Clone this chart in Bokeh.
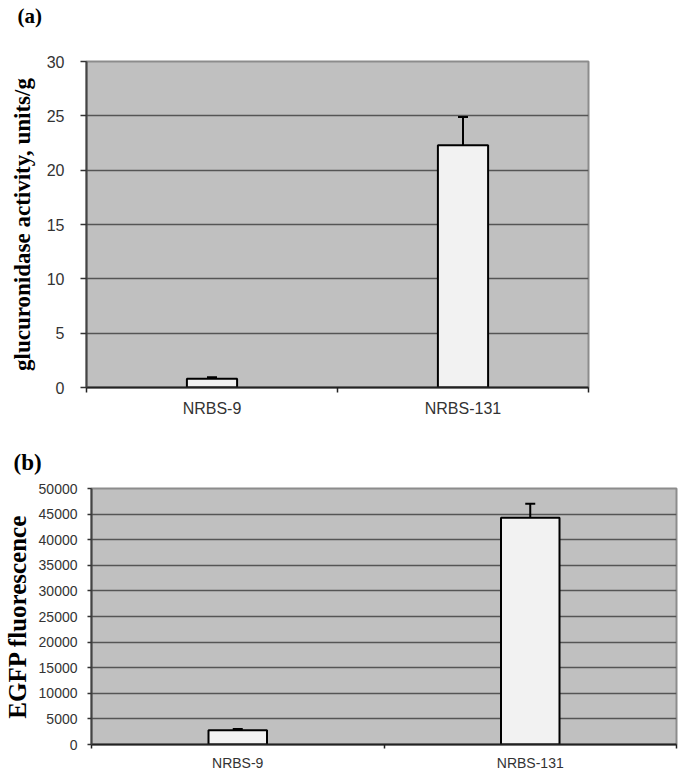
from bokeh.plotting import figure
from bokeh.models import ColumnDataSource, FixedTicker, Whisker, TeeHead, Range1d, Title
from bokeh.embed import file_html
from bokeh.resources import INLINE

# ---- data ----
categories = ["NRBS-9", "NRBS-131"]
gluc_mean = [0.8, 22.3]
gluc_err = [0.15, 2.6]
egfp_mean = [2800, 44300]
egfp_err = [250, 2700]
gluc_ticks = [0, 5, 10, 15, 20, 25, 30]
egfp_ticks = [0, 5000, 10000, 15000, 20000, 25000, 30000, 35000, 40000, 45000, 50000]

SERIF = "Liberation Serif"
SANS = "Liberation Sans"


def panel(letter, means, errs, yticks, ylabel, width, height, borders,
          tick_font, ylab_font, title_font, title_offset, title_standoff, title_lh,
          ytick_out, ymaj_standoff, xtick_out, xmaj_standoff, ylabel_std):
    xs = [2 * i + 1 for i in range(len(categories))]
    src = ColumnDataSource(dict(
        x=xs, top=means, upper=[m + e for m, e in zip(means, errs)],
    ))
    left, top, right, bottom = borders
    p = figure(width=width, height=height, output_backend="svg", toolbar_location=None,
               x_range=Range1d(0, 2 * len(categories)), y_range=Range1d(yticks[0], yticks[-1]),
               min_border_left=left, min_border_top=top, min_border_right=right,
               min_border_bottom=bottom)
    p.background_fill_color = "#c0c0c0"
    p.border_fill_color = "white"
    p.outline_line_color = "#8c8c8c"
    p.outline_line_width = 2

    p.vbar(x="x", top="top", bottom=0, width=0.4, source=src,
           fill_color="#f2f2f2", line_color="black", line_width=2)
    w = Whisker(source=src, base="x", lower="top", upper="upper", dimension="height",
                line_color="black", line_width=2, lower_head=None,
                upper_head=TeeHead(size=10, line_color="black", line_width=2))
    p.add_layout(w)

    # x axis: labels at category centres, ticks at boundaries
    p.xaxis.ticker = FixedTicker(ticks=xs, minor_ticks=[0, 2, 4])
    p.xaxis.major_label_overrides = {x: c for x, c in zip(xs, categories)}
    p.xaxis.major_tick_out = 0
    p.xaxis.major_tick_in = 0
    p.xaxis.minor_tick_out = xtick_out
    p.xaxis.minor_tick_in = 0
    p.xaxis.minor_tick_line_color = "#222222"
    p.xaxis.minor_tick_line_width = 1.5
    p.xaxis.axis_line_color = "#222222"
    p.xaxis.axis_line_width = 2
    p.xaxis.major_label_text_font = SANS
    p.xaxis.major_label_text_font_size = tick_font[0]
    p.xaxis.major_label_text_color = "#333333"
    p.xaxis.major_label_standoff = xmaj_standoff

    # y axis
    p.yaxis.ticker = FixedTicker(ticks=yticks)
    p.yaxis.major_tick_out = ytick_out
    p.yaxis.major_tick_in = 0
    p.yaxis.minor_tick_out = 0
    p.yaxis.minor_tick_in = 0
    p.yaxis.major_tick_line_color = "#333333"
    p.yaxis.major_tick_line_width = 1.5
    p.yaxis.axis_line_color = "#444444"
    p.yaxis.axis_line_width = 2
    p.yaxis.major_label_text_font = SANS
    p.yaxis.major_label_text_font_size = tick_font[1]
    p.yaxis.major_label_text_color = "#333333"
    p.yaxis.major_label_standoff = ymaj_standoff
    p.yaxis.axis_label = ylabel
    p.yaxis.axis_label_text_font = SERIF
    p.yaxis.axis_label_text_font_style = "bold"
    p.yaxis.axis_label_text_font_size = ylab_font
    p.yaxis.axis_label_text_color = "black"
    p.yaxis.axis_label_standoff = ylabel_std

    p.xgrid.visible = False
    p.ygrid.grid_line_color = "#555555"
    p.ygrid.grid_line_width = 1.5

    t = Title(text=letter, align="left", offset=title_offset, standoff=title_standoff,
              text_font=SERIF, text_font_style="bold", text_font_size=title_font,
              text_line_height=title_lh, text_color="black")
    p.add_layout(t, "above")
    return p


pa = panel("(a)\n", gluc_mean, gluc_err, gluc_ticks, "glucuronidase activity, units/g",
           width=685, height=433, borders=(86, 61, 97, 46),
           tick_font=("16px", "16px"), ylab_font="23px", title_font="21px",
           title_offset=-69, title_standoff=4, title_lh=1.3,
           ytick_out=6, ymaj_standoff=16, xtick_out=5, xmaj_standoff=7,
           ylabel_std=9)

pb = panel("(b)", egfp_mean, egfp_err, egfp_ticks, "EGFP fluorescence",
           width=685, height=340, borders=(91, 55, 9, 26),
           tick_font=("14px", "14px"), ylab_font="25px", title_font="23px",
           title_offset=-78, title_standoff=27, title_lh=1.2,
           ytick_out=4, ymaj_standoff=10, xtick_out=4, xmaj_standoff=6,
           ylabel_std=5)

open("out.html", "w").write(file_html([pa, pb], INLINE))
